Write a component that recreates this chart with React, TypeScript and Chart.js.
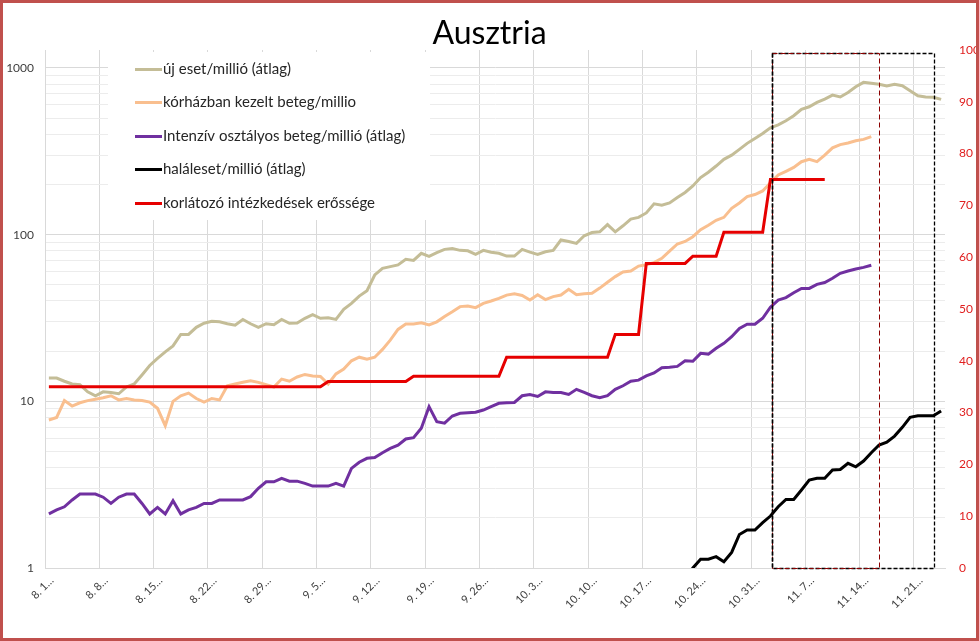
import React, { useEffect, useRef } from "react";
import { Chart, registerables } from "chart.js";

Chart.register(...registerables);

const FONT = "Lato, 'Open Sans', sans-serif";
const TITLE = "Ausztria";

// Categories: daily dates 8.1 – 11.24
const MONTHS = [8, 9, 10, 11];
const DAYS_IN_MONTH = [31, 30, 31, 24];
const categories: string[] = [];
MONTHS.forEach((m, k) => {
  for (let d = 1; d <= DAYS_IN_MONTH[k]; d++) categories.push(`${m}. ${d}`);
});
const LABEL_EVERY = 7;

// Left (log) axis ticks
const LOG_MAJOR = [1, 10, 100, 1000];
const LOG_MINOR_STEPS = [2, 3, 4, 5, 6, 7, 8, 9];
const LOG_MAX = 1282;

// Right axis
const RIGHT_MIN = 0;
const RIGHT_MAX = 100;
const RIGHT_STEP = 10;

const NAMES = [
  "új eset/millió (átlag)",
  "kórházban kezelt beteg/millio",
  "Intenzív osztályos beteg/millió (átlag)",
  "haláleset/millió (átlag)",
  "korlátozó intézkedések erőssége",
];
const COLORS = ["#c4bd97", "#f9bf8f", "#7030a0", "#000000", "#e60000"];

const newCases = [
  13.8, 13.8, 13.2, 12.7, 12.6, 11.4, 10.8, 11.4, 11.3, 11.1,
  12.2, 12.7, 14.4, 16.4, 18.1, 19.8, 21.5, 25.2, 25.2, 27.8,
  29.4, 30.2, 30, 29.2, 28.6, 31.0, 29.2, 27.8, 29.2, 28.8,
  31.0, 29.4, 29.5, 31.5, 33.1, 31.5, 31.7, 31.0, 35.6, 38.7,
  42.8, 46.1, 57.3, 62.8, 64.3, 65.8, 71.1, 70, 77.3, 74,
  78, 81.6, 82.5, 80.5, 80, 76.2, 80.5, 78.5, 77.3,
  74.4, 74.4, 81.6, 78.5, 76.2, 79, 80.5, 92.9, 91, 88.7,
  98.5, 103, 104, 115, 104, 113, 124, 127, 135, 153,
  150, 155, 167, 179, 196, 220, 237, 258, 283, 300,
  325, 353, 378, 405, 438, 456, 482, 517, 565, 585,
  622, 651, 687, 670, 713, 771, 820, 810, 798, 780,
  798, 783, 730, 681, 670, 668, 648,
];

const hospital = [
  7.73, 8.0, 10.1, 9.37, 9.8, 10.1, 10.3, 10.5, 10.8, 10.2,
  10.4, 10.2, 10.1, 9.9, 9.08, 7.14, 10.0, 10.8, 11.2, 10.4,
  9.9, 10.4, 10.2, 12.4, 12.7, 13.0, 13.3, 13.0, 12.6, 12.2,
  13.6, 13.2, 14.0, 14.5, 14.2, 14.1, 12.7, 14.6, 15.6, 17.5,
  18.4, 17.9, 18.4, 20.5, 23.3, 27.0, 29.1, 29.1, 29.6, 28.7,
  30, 32.3, 34.5, 37.0, 37.3, 36.5, 38.7, 40, 41.5, 43.4,
  44.2, 43.2, 40.5, 43.6, 40.8, 42.5, 43.4, 47, 43.6, 44.2,
  44.5, 47.8, 51.8, 56, 59.7, 60.5, 64.8, 66, 67.9, 72.1,
  79.7, 87.9, 91, 97.2, 107, 114, 122, 127, 144, 155,
  169, 174, 183, 205, 228, 240, 253, 274, 283, 274,
  300, 332, 347, 355, 366, 373, 387,
  null, null, null, null, null, null, null, null, null,
];

const icu = [
  2.11, 2.23, 2.33, 2.56, 2.78, 2.78, 2.78, 2.66, 2.44, 2.66,
  2.78, 2.78, 2.44, 2.11, 2.31, 2.11, 2.53, 2.11, 2.23, 2.31,
  2.44, 2.44, 2.56, 2.56, 2.56, 2.56, 2.68, 3.01, 3.29, 3.29,
  3.45, 3.32, 3.32, 3.22, 3.1, 3.1, 3.1, 3.22, 3.1, 3.96,
  4.31, 4.55, 4.6, 4.92, 5.22, 5.45, 5.94, 6.05, 6.89, 9.29,
  7.55, 7.4, 8.17, 8.47, 8.55, 8.6, 8.87, 9.29, 9.73, 9.8,
  9.85, 10.8, 11.0, 10.7, 11.4, 11.3, 11.3, 11.0, 11.8, 11.3,
  10.8, 10.5, 10.8, 11.8, 12.4, 13.2, 13.4, 14.2, 14.8, 15.9,
  16.0, 16.2, 17.5, 17.4, 19.4, 19.2, 20.8, 22.3, 24.4, 27.4,
  29, 29, 31.5, 36.7, 40.5, 41.9, 44.8, 47.6, 47.6, 50.3,
  51.6, 54.7, 58.6, 60.5, 62.2, 63.6, 65.5,
  null, null, null, null, null, null, null, null, null,
];

const deaths = [
  null, null, null, null, null, null, null, null, null, null,
  null, null, null, null, null, null, null, null, null, null,
  null, null, null, null, null, null, null, null, null, null,
  null, null, null, null, null, null, null, null, null, null,
  null, null, null, null, null, null, null, null, null, null,
  null, null, null, null, null, null, null, null, null, null,
  null, null, null, null, null, null, null, null, null, null,
  null, null, null, null, null, null, null, null, null, null,
  null, null, 0.85, 1.0, 1.13, 1.13, 1.17, 1.09, 1.24, 1.59,
  1.69, 1.69, 1.87, 2.05, 2.33, 2.58, 2.58, 2.94, 3.37, 3.45,
  3.45, 3.87, 3.9, 4.25, 4.05, 4.38, 4.92, 5.47, 5.68, 6.19,
  6.98, 8.02, 8.2, 8.2, 8.2, 8.75,
];

const stringency = [
  35, 35, 35, 35, 35, 35, 35, 35, 35, 35,
  35, 35, 35, 35, 35, 35, 35, 35, 35, 35,
  35, 35, 35, 35, 35, 35, 35, 35, 35, 35,
  35, 35, 35, 35, 35, 35, 36, 36, 36, 36,
  36, 36, 36, 36, 36, 36, 36, 37, 37, 37,
  37, 37, 37, 37, 37, 37, 37, 37, 37, 40.7,
  40.7, 40.7, 40.7, 40.7, 40.7, 40.7, 40.7, 40.7, 40.7, 40.7,
  40.7, 40.7, 40.7, 45.1, 45.1, 45.1, 45.1, 58.8, 58.8, 58.8,
  58.8, 58.8, 58.8, 60.2, 60.2, 60.2, 60.2, 64.8, 64.8, 64.8,
  64.8, 64.8, 64.8, 75, 75, 75, 75, 75, 75, 75,
  75, null, null, null, null, null, null, null, null, null,
  null, null, null, null, null, null,
];

// Dashed highlight boxes (category index positions / right-axis value)
const BOX_START = 93.2;
const RED_BOX_END = 107.0;
const BLACK_BOX_END = 114.1;
const BOX_TOP = 99.5;

const insideLegend = {
  id: "insideLegend",
  beforeDatasetsDraw(chart: any) {
    const { ctx, chartArea } = chart;
    const x0 = chartArea.left + 63;
    const y0 = chartArea.top + 2;
    ctx.save();
    ctx.fillStyle = "#ffffff";
    ctx.fillRect(x0, y0, 322, 168);
    ctx.font = `15px ${FONT}`;
    ctx.textBaseline = "middle";
    ctx.textAlign = "left";
    chart.data.datasets.forEach((ds: any, i: number) => {
      const y = Math.round(chartArea.top + 19 + i * 33.4) + 0.5;
      ctx.strokeStyle = ds.borderColor;
      ctx.lineWidth = 3;
      ctx.beginPath();
      ctx.moveTo(x0 + 27, y);
      ctx.lineTo(x0 + 54, y);
      ctx.stroke();
      ctx.fillStyle = "#262626";
      ctx.fillText(ds.label, x0 + 55, y);
    });
    ctx.restore();
  },
};

const dashedBoxes = {
  id: "dashedBoxes",
  afterDatasetsDraw(chart: any) {
    const { ctx, chartArea } = chart;
    const xs = chart.scales.x;
    const yr = chart.scales.y1;
    const l = Math.round(xs.getPixelForValue(BOX_START)) + 0.5;
    const rRed = Math.round(xs.getPixelForValue(RED_BOX_END)) + 0.5;
    const rBlack = Math.round(xs.getPixelForValue(BLACK_BOX_END)) + 0.5;
    const t = Math.round(yr.getPixelForValue(BOX_TOP)) + 0.5;
    const b = Math.round(chartArea.bottom) + 0.5;
    ctx.save();
    ctx.lineWidth = 1.3;
    ctx.strokeStyle = "#000000";
    ctx.setLineDash([4, 2]);
    ctx.strokeRect(l, t, rBlack - l, b - t);
    ctx.lineWidth = 1;
    ctx.strokeStyle = "#8b0000";
    ctx.setLineDash([5, 3]);
    ctx.strokeRect(l, t, rRed - l, b - t);
    ctx.lineWidth = 1.5;
    ctx.strokeStyle = "#000000";
    ctx.setLineDash([4, 2]);
    ctx.beginPath();
    ctx.moveTo(l, t);
    ctx.lineTo(l, b);
    ctx.stroke();
    ctx.restore();
  },
};

export default function App() {
  const canvasRef = useRef<HTMLCanvasElement | null>(null);

  useEffect(() => {
    const canvas = canvasRef.current;
    if (!canvas) return;
    const series = [newCases, hospital, icu, deaths, stringency];
    const chart = new Chart(canvas, {
      type: "line",
      data: {
        labels: categories,
        datasets: series.map((data, i) => ({
          label: NAMES[i],
          data,
          borderColor: COLORS[i],
          backgroundColor: COLORS[i],
          borderWidth: 3,
          pointRadius: 0,
          tension: 0,
          spanGaps: false,
          yAxisID: i === 4 ? "y1" : "y",
          order: 5 - i,
        })),
      },
      options: {
        responsive: false,
        animation: false,
        events: [],
        layout: { padding: 0 },
        plugins: {
          legend: { display: false },
          tooltip: { enabled: false },
          title: {
            display: true,
            text: TITLE,
            color: "#000000",
            font: { family: FONT, size: 32, weight: "normal", lineHeight: 1 },
            padding: { top: 18, bottom: 0 },
          },
        },
        scales: {
          x: {
            type: "category",
            offset: true,
            grid: {
              offset: true,
              drawTicks: false,
              color: (c: any) => (c.index % LABEL_EVERY === 0 ? "#d9d9d9" : "rgba(0,0,0,0)"),
            },
            border: { color: "#d9d9d9" },
            ticks: {
              autoSkip: false,
              maxRotation: 45,
              minRotation: 45,
              padding: 6,
              labelOffset: 3,
              color: "#404040",
              font: { family: FONT, size: 11 },
              callback: (_v: any, i: number) => (i % LABEL_EVERY === 0 ? `${categories[i]}…` : ""),
            },
            afterFit: (s: any) => {
              s.height = 73;
            },
          },
          y: {
            type: "logarithmic",
            position: "left",
            min: 1,
            max: LOG_MAX,
            afterBuildTicks: (s: any) => {
              const ticks: { value: number }[] = [];
              LOG_MAJOR.forEach((m) => {
                ticks.push({ value: m });
                if (m < 1000) LOG_MINOR_STEPS.forEach((k) => ticks.push({ value: m * k }));
              });
              s.ticks = ticks;
            },
            grid: {
              drawTicks: false,
              color: (c: any) => (c.tick && LOG_MAJOR.includes(c.tick.value) ? "#d9d9d9" : "#ececec"),
            },
            border: { color: "#d9d9d9" },
            ticks: {
              autoSkip: false,
              padding: 11,
              color: "#404040",
              font: { family: FONT, size: 12 },
              callback: (v: any) => (LOG_MAJOR.includes(Number(v)) ? String(v) : ""),
            },
            afterFit: (s: any) => {
              s.width = 45;
            },
          },
          y1: {
            type: "linear",
            position: "right",
            min: RIGHT_MIN,
            max: RIGHT_MAX,
            grid: { display: false, drawTicks: false },
            border: { display: false },
            ticks: {
              stepSize: RIGHT_STEP,
              padding: 14,
              color: "#e02020",
              font: { family: FONT, size: 12 },
            },
            afterFit: (s: any) => {
              s.width = 34;
            },
          },
        },
      },
      plugins: [insideLegend, dashedBoxes],
    } as any);
    return () => chart.destroy();
  }, []);

  return (
    <div style={{ position: "absolute", left: 0, top: 0, width: 979, height: 641, background: "#ffffff" }}>
      <canvas ref={canvasRef} width={979} height={641} style={{ display: "block", width: 979, height: 641 }} />
      <div
        style={{
          position: "absolute",
          inset: 0,
          border: "3px solid #c0504d",
          boxSizing: "border-box",
          pointerEvents: "none",
        }}
      />
    </div>
  );
}
